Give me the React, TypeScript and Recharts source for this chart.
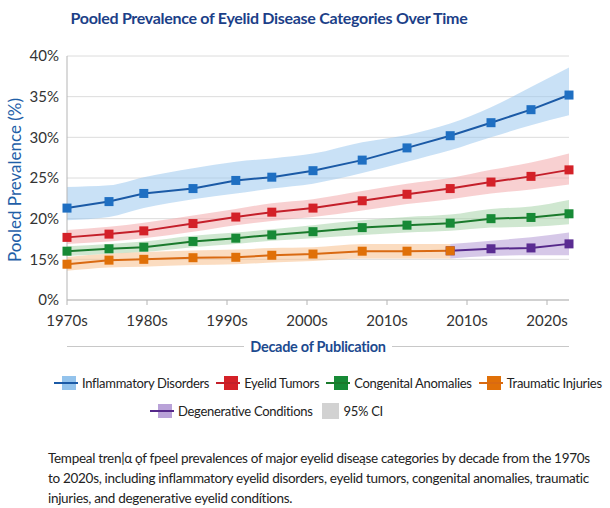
import { ComposedChart, Line, Area, XAxis, YAxis, CartesianGrid } from 'recharts'

// position of each pooled estimate along the decade axis
const pubPos = [1970, 1975.25, 1979.6, 1985.75, 1991.1, 1995.6, 2000.75, 2006.9, 2012.5, 2017.9, 2023, 2028, 2032.75]
const decadeTicks = [1970, 1980, 1990, 2000, 2010, 2020, 2030]
const decadeLabels = ['1970s', '1980s', '1990s', '2000s', '2010s', '2010s', '2020s']
const pctTicks = [10, 15, 20, 25, 30, 35, 40]

const inflam = [21.3, 22.1, 23.1, 23.7, 24.7, 25.1, 25.9, 27.2, 28.7, 30.2, 31.8, 33.4, 35.2]
const inflamLo = [19.8, 20.2, 21.3, 22.4, 23.1, 23.7, 24.3, 25.6, 27.0, 28.4, 30.0, 31.5, 32.7]
const inflamHi = [23.9, 24.1, 25.1, 26.2, 27.0, 27.4, 28.0, 29.4, 30.3, 31.7, 33.7, 36.2, 38.6]

const tumors = [17.7, 18.1, 18.5, 19.4, 20.2, 20.8, 21.3, 22.2, 23.0, 23.7, 24.5, 25.2, 26.0]
const tumorsLo = [16.9, 17.2, 17.6, 18.4, 19.2, 19.7, 20.2, 21.0, 21.8, 22.4, 23.1, 23.6, 24.2]
const tumorsHi = [18.6, 19.0, 19.5, 20.4, 21.2, 21.9, 22.4, 23.4, 24.3, 25.0, 26.0, 26.9, 28.0]

const congen = [16.0, 16.3, 16.5, 17.2, 17.6, 18.0, 18.4, 18.9, 19.2, 19.45, 20.0, 20.15, 20.6]
const congenLo = [15.4, 15.7, 15.9, 16.5, 16.9, 17.3, 17.6, 18.0, 18.3, 18.5, 18.9, 19.0, 19.3]
const congenHi = [16.6, 16.9, 17.2, 17.9, 18.3, 18.7, 19.2, 19.8, 20.2, 20.5, 21.2, 21.5, 22.3]

const trauma = [14.4, 14.9, 15.0, 15.2, 15.25, 15.5, 15.65, 16.0, 16.0, 16.05, null, null, null]
const traumaLo = [13.6, 14.0, 14.1, 14.3, 14.4, 14.6, 14.8, 15.1, 15.1, 15.1, null, null, null]
const traumaHi = [15.3, 15.7, 15.9, 16.1, 16.2, 16.4, 16.5, 16.9, 16.9, 16.9, null, null, null]

const degen = [null, null, null, null, null, null, null, null, null, 16.05, 16.3, 16.4, 16.9]
const degenLo = [null, null, null, null, null, null, null, null, null, 15.1, 15.4, 15.5, 15.5]
const degenHi = [null, null, null, null, null, null, null, null, null, 16.9, 17.3, 17.7, 18.3]

const series = [
  { key: 'degen', name: 'Degenerative Conditions', line: '#55288a', dot: '#5a2c92', band: '#b49ad6', icon: '#b9a2d8' },
  { key: 'inflam', name: 'Inflammatory Disorders', line: '#1b5aa6', dot: '#1f6fc2', band: '#9cc8ef', icon: '#93c3ec' },
  { key: 'tumors', name: 'Eyelid Tumors', line: '#c41f2a', dot: '#d42128', band: '#f2a9ab', icon: '#d42128' },
  { key: 'congen', name: 'Congenital Anomalies', line: '#1a7a2c', dot: '#178a36', band: '#a8d4a9', icon: '#178a36' },
  { key: 'trauma', name: 'Traumatic Injuries', line: '#d96a12', dot: '#e07008', band: '#f7c08c', icon: '#e07008' },
]

const rows = pubPos.map((x, i) => ({
  x,
  inflam: inflam[i], inflamCI: [inflamLo[i], inflamHi[i]],
  tumors: tumors[i], tumorsCI: [tumorsLo[i], tumorsHi[i]],
  congen: congen[i], congenCI: [congenLo[i], congenHi[i]],
  trauma: trauma[i], traumaCI: traumaLo[i] == null ? null : [traumaLo[i], traumaHi[i]],
  degen: degen[i], degenCI: degenLo[i] == null ? null : [degenLo[i], degenHi[i]],
}))

const font = 'Lato, "Open Sans", sans-serif'

function SquareDot(color: string) {
  return (p: any) => {
    if (p.cx == null || p.cy == null || p.value == null) return <g key={p.index} />
    return <rect key={p.index} x={p.cx - 4.5} y={p.cy - 4.5} width={9} height={9} fill={color} />
  }
}

function LegendItem({ line, icon, label }: { line?: string; icon: string; label: string }) {
  return (
    <span style={{ display: 'inline-flex', alignItems: 'center', marginRight: 7 }}>
      <svg width={line ? 24 : 20} height={16} style={{ marginRight: 4 }}>
        {line ? (
          <>
            <rect x={8} y={1} width={14} height={14} fill={icon} />
            <line x1={0} y1={8} x2={24} y2={8} stroke={line} strokeWidth={2} />
          </>
        ) : (
          <rect x={2} y={0} width={17} height={16} fill={icon} />
        )}
      </svg>
      {label}
    </span>
  )
}

export default function App() {
  const byKey = Object.fromEntries(series.map(s => [s.key, s]))
  const legendText = { fontSize: 13, letterSpacing: -0.3, color: '#222', whiteSpace: 'nowrap' as const }
  return (
    <div style={{ position: 'absolute', left: 0, top: 0, width: 610, height: 508, background: '#fff', fontFamily: font }}>
      <div style={{ position: 'absolute', left: 0, width: 538, top: 8, textAlign: 'center', fontSize: 16, letterSpacing: -0.3, fontWeight: 700, color: '#1c3f88' }}>
        Pooled Prevalence of Eyelid Disease Categories Over Time
      </div>
      <div style={{ position: 'absolute', left: 14, top: 180, transform: 'translate(-50%, -50%) rotate(-90deg)', whiteSpace: 'nowrap', fontSize: 17, color: '#1f5fa8' }}>
        Pooled Prevalence (%)
      </div>
      <div style={{ position: 'absolute', left: 0, top: 0 }}>
        <ComposedChart width={610} height={340} data={rows} margin={{ top: 56, right: 41, left: 0, bottom: 10 }}>
          <CartesianGrid vertical={false} stroke="#dcdcdc" />
          <XAxis
            dataKey="x" type="number" domain={[1970, 2032.75]} ticks={decadeTicks}
            tickFormatter={(v: number) => decadeLabels[decadeTicks.indexOf(v)]}
            height={30} stroke="#b5b5b5" tickSize={5} tickMargin={10}
            tick={{ fontSize: 15, fill: '#333', fontFamily: font }}
          />
          <YAxis
            domain={[10, 40]} ticks={pctTicks} width={67} stroke="#b5b5b5" tickLine={false}
            tickFormatter={(v: number) => (v === 10 ? '0%' : `${v}%`)}
            tick={{ fontSize: 15, fill: '#333', fontFamily: font }}
          />
          {series.map(s => (
            <Area
              key={s.key + 'CI'} dataKey={s.key + 'CI'} type="monotone" stroke="none"
              fill={s.band} fillOpacity={0.55} isAnimationActive={false} connectNulls={false}
            />
          ))}
          {series.map(s => (
            <Line
              key={s.key} dataKey={s.key} type="linear" stroke={s.line} strokeWidth={2}
              dot={SquareDot(s.dot)} activeDot={false} isAnimationActive={false}
            />
          ))}
        </ComposedChart>
      </div>
      <div style={{ position: 'absolute', left: 67, width: 502, top: 338, display: 'flex', alignItems: 'center', gap: 6 }}>
        <div style={{ flex: 1, height: 1, background: '#c8c8c8' }} />
        <div style={{ fontSize: 14.5, letterSpacing: -0.3, fontWeight: 700, color: '#1c4a8f' }}>Decade of Publication</div>
        <div style={{ flex: 1, height: 1, background: '#c8c8c8' }} />
      </div>
      <div style={{ position: 'absolute', left: 54, top: 375, display: 'flex', ...legendText }}>
        {['inflam', 'tumors', 'congen', 'trauma'].map(k => (
          <LegendItem key={k} line={byKey[k].line} icon={byKey[k].icon} label={byKey[k].name} />
        ))}
      </div>
      <div style={{ position: 'absolute', left: 150, top: 403, display: 'flex', ...legendText }}>
        <LegendItem line={byKey.degen.line} icon={byKey.degen.icon} label={byKey.degen.name} />
        <LegendItem icon="#d2d2d2" label="95% CI" />
      </div>
      <div style={{ position: 'absolute', left: 48, top: 448, fontSize: 13.5, letterSpacing: -0.3, lineHeight: '20px', color: '#222', whiteSpace: 'nowrap' }}>
        Tempeal tren|α ǫf fpeel prevalences of major eyelid diseąse categories by decade from the 1970s<br />
        to 2020s, including inflammatory eyelid disorders, eyelid tumors, congenital anomalies, traumatic<br />
        injuries, and degenerative eyelid condítions.
      </div>
    </div>
  )
}
